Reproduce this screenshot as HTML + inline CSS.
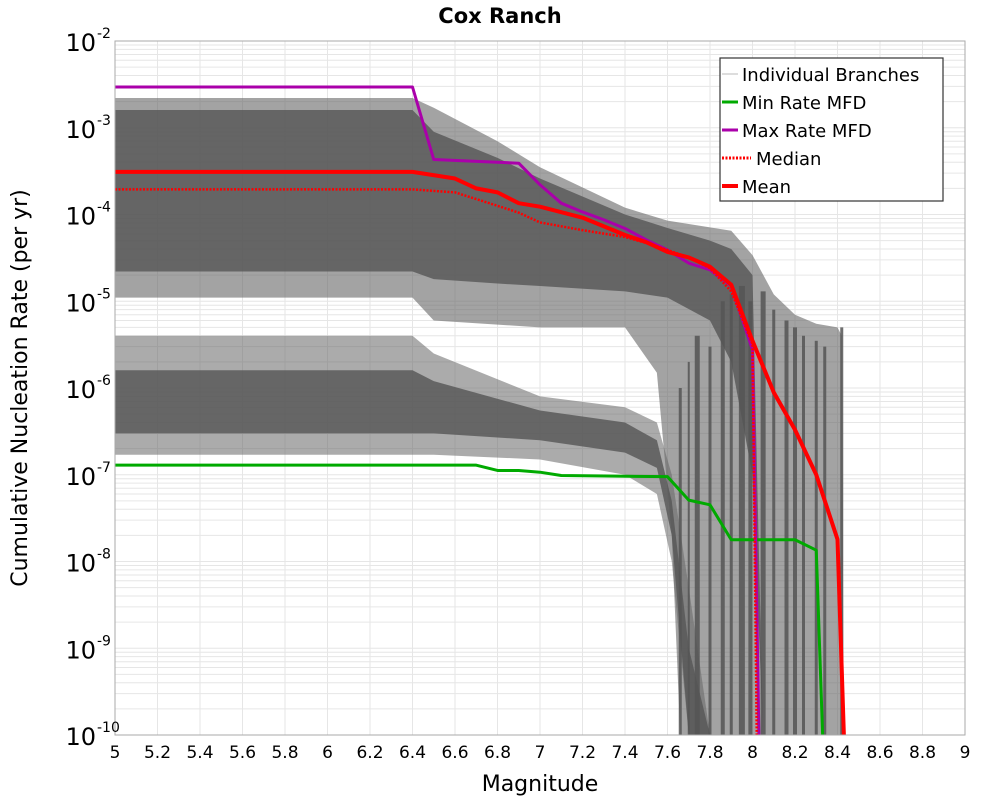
<!DOCTYPE html>
<html><head><meta charset="utf-8"><style>
body{margin:0;background:#fff;}
svg{display:block;font-family:"DejaVu Sans","Liberation Sans",sans-serif;}
</style></head><body>
<svg id="chart" width="1000" height="800" viewBox="0 0 1000 800" xmlns="http://www.w3.org/2000/svg">
<text x="500" y="23" text-anchor="middle" font-size="21" font-weight="bold">Cox Ranch</text>
<g id="grid"></g>
<g id="cloud"></g>
<g id="series"></g>
<rect x="115" y="41" width="850" height="694" fill="none" stroke="#aaa" stroke-width="1"/>
<g id="axes"></g>
<text x="540" y="791" text-anchor="middle" font-size="22">Magnitude</text>
<text transform="translate(27,388) rotate(-90)" text-anchor="middle" font-size="22">Cumulative Nucleation Rate (per yr)</text>
<g>
<rect x="720" y="58" width="223" height="143" fill="#fff" stroke="#333" stroke-width="1.2"/>
<line x1="722" y1="74" x2="738" y2="74" stroke="#bbb" stroke-width="1"/>
<text x="742" y="81" font-size="18">Individual Branches</text>
<line x1="722" y1="102" x2="738" y2="102" stroke="#00aa00" stroke-width="3"/>
<text x="742" y="109" font-size="18">Min Rate MFD</text>
<line x1="722" y1="130" x2="738" y2="130" stroke="#aa00aa" stroke-width="3"/>
<text x="742" y="137" font-size="18">Max Rate MFD</text>
<line x1="722" y1="158" x2="751" y2="158" stroke="#ff0000" stroke-width="3" stroke-dasharray="2,1.5"/>
<text x="756" y="165" font-size="18">Median</text>
<line x1="722" y1="186" x2="738" y2="186" stroke="#ff0000" stroke-width="4"/>
<text x="742" y="193" font-size="18">Mean</text>
</g>
</svg>
<script>
const xTicks=[5,5.2,5.4,5.6,5.8,6,6.2,6.4,6.6,6.8,7,7.2,7.4,7.6,7.8,8,8.2,8.4,8.6,8.8,9];
const yTickExps=[-2,-3,-4,-5,-6,-7,-8,-9,-10];
const maxMags=[5,6.4,6.5,6.9,7.0,7.1,7.2,7.3,7.4,7.5,7.6,7.7,7.8,7.9,8.0,8.03];
const maxVals=[2.95e-3,2.95e-3,4.3e-4,3.9e-4,2.2e-4,1.35e-4,1.07e-4,8.7e-5,6.9e-5,5.1e-5,3.9e-5,2.75e-5,2.3e-5,1.5e-5,2.75e-6,1e-10];
const meanMags=[5,6.4,6.6,6.7,6.8,6.9,7.0,7.2,7.4,7.5,7.6,7.7,7.8,7.9,8.0,8.1,8.2,8.3,8.4,8.43];
const meanVals=[3.1e-4,3.1e-4,2.6e-4,2.0e-4,1.8e-4,1.35e-4,1.23e-4,9.2e-5,5.8e-5,4.8e-5,3.7e-5,3.2e-5,2.5e-5,1.55e-5,3.5e-6,8.9e-7,3.3e-7,1.0e-7,1.8e-8,1e-10];
const medMags=[5,6.4,6.6,6.8,6.9,7.0,7.2,7.4,7.5,7.6,7.7,7.8,7.9,8.0,8.02];
const medVals=[1.95e-4,1.95e-4,1.8e-4,1.26e-4,1.05e-4,8.1e-5,6.6e-5,5.5e-5,4.7e-5,3.9e-5,3.2e-5,2.4e-5,1.3e-5,3.2e-6,1e-10];
const minMags=[5,6.7,6.8,6.9,7.0,7.1,7.6,7.7,7.8,7.9,8.2,8.3,8.33];
const minVals=[1.29e-7,1.29e-7,1.12e-7,1.12e-7,1.07e-7,9.8e-8,9.5e-8,5.1e-8,4.5e-8,1.78e-8,1.78e-8,1.35e-8,1e-10];
// gray branch cloud envelopes
const upMags=[5,6.4,6.5,6.8,7.0,7.4,7.6,7.9,8.0,8.1,8.2,8.3,8.4,8.42,8.43];
const upHi=[2.2e-3,2.2e-3,1.7e-3,7e-4,3.5e-4,1.2e-4,8.5e-5,6.5e-5,3.4e-5,1.2e-5,7e-6,5.5e-6,5e-6,4e-6,1e-10];
const upLoMags=[5,6.4,6.5,7.0,7.4,7.55,7.62,7.66];
const upLo=[1.1e-5,1.1e-5,6e-6,5e-6,5e-6,1.5e-6,2e-8,1e-10];
const coreMags=[5,6.4,6.5,6.8,7.0,7.4,7.6,7.8,7.9,8.0,8.05];
const coreHi=[1.6e-3,1.6e-3,9e-4,4.5e-4,2.6e-4,1e-4,7e-5,5e-5,4e-5,2e-5,1e-10];
const coreLo=[2.2e-5,2.2e-5,1.8e-5,1.6e-5,1.5e-5,1.3e-5,1.1e-5,6e-6,2e-6,1e-7,1e-10];
const loMags=[5,6.4,6.5,7.0,7.4,7.55,7.62,7.7,7.8];
const loHi=[4e-6,4e-6,2.5e-6,8e-7,6e-7,4e-7,1e-7,5e-9,1e-10];
const loLo=[1.7e-7,1.7e-7,1.7e-7,1.5e-7,1e-7,6e-8,1e-8,1e-10,1e-10];
const lcoreHi=[1.6e-6,1.6e-6,1.2e-6,5.5e-7,4e-7,2.5e-7,5e-8,1e-9,1e-10];
const lcoreLo=[3e-7,3e-7,3e-7,2.5e-7,1.8e-7,1.2e-7,2e-8,1e-10,1e-10];
const dropMags=[7.66,7.7,7.74,7.8,7.86,7.9,7.95,7.99,8.05,8.1,8.16,8.2,8.24,8.3,8.34,8.42];
const dropTops=[1e-6,2e-6,4e-6,3e-6,1e-5,1.2e-5,1.5e-5,1e-5,1.3e-5,8e-6,6e-6,5e-6,4e-6,3.5e-6,3e-6,5e-6];
const dropW=[3,2,5,3,4,3,6,4,5,3,4,4,3,3,3,3];

const NS="http://www.w3.org/2000/svg";
const X=m=>115+(m-5)*212.5;
const Y=v=>41+(-2-Math.log10(v))*86.75;
function mk(tag,attrs,parent){const e=document.createElementNS(NS,tag);for(const k in attrs)e.setAttribute(k,attrs[k]);parent.appendChild(e);return e;}
const grid=document.getElementById('grid'),cloud=document.getElementById('cloud'),series=document.getElementById('series'),axes=document.getElementById('axes');
for(let e=-10;e<-2;e++)for(let k=1;k<10;k++){const y=Y(k*Math.pow(10,e));
 const l=mk('line',{x1:115,x2:965,y1:y,y2:y,stroke:'#e6e6e6','stroke-width':1},grid);
 
 }
xTicks.forEach(m=>{const l=mk('line',{x1:X(m),x2:X(m),y1:41,y2:735,stroke:'#e6e6e6','stroke-width':1},grid);
 
 });
function band(mags,hi,lo,lomags,fill,op,name){
 let pts=mags.map((m,i)=>X(m)+','+Math.min(735,Y(hi[i])));
 const lm=lomags||mags;
 for(let i=lm.length-1;i>=0;i--)pts.push(X(lm[i])+','+Math.min(735,Y(lo[i])));
 const p=mk('polygon',{points:pts.join(' '),fill:fill,'fill-opacity':op},cloud);
 
 }
band(upMags,upHi,upLo,upLoMags,'#666',0.6,'upper-branch-envelope');
band(coreMags,coreHi,coreLo,null,'#555',0.8,'upper-branch-core');
band(loMags,loHi,loLo,null,'#666',0.55,'lower-branch-envelope');
band(loMags,lcoreHi,lcoreLo,null,'#555',0.8,'lower-branch-core');
dropMags.forEach((m,i)=>{const r=mk('rect',{x:X(m)-dropW[i]/2,y:Y(dropTops[i]),width:dropW[i],height:735-Y(dropTops[i]),fill:'#555','fill-opacity':0.85},cloud);
 
 });
function line(mags,vals,color,w,dash,name){
 const d=mags.map((m,i)=>(i?'L':'M')+X(m)+' '+Math.min(735,Y(vals[i]))).join(' ');
 const p=mk('path',{d:d,fill:'none',stroke:color,'stroke-width':w,'stroke-linejoin':'round'},series);
 if(dash)p.setAttribute('stroke-dasharray',dash);
 
 }
line(minMags,minVals,'#00aa00',3,null,'min-rate-mfd-line');
line(maxMags,maxVals,'#aa00aa',3,null,'max-rate-mfd-line');
line(medMags,medVals,'#ff0000',2.5,'2,1.5','median-line');
line(meanMags,meanVals,'#ff0000',4,null,'mean-line');
xTicks.forEach(m=>{const t=mk('text',{x:X(m),y:758,'text-anchor':'middle','font-size':17},axes);t.textContent=String(m);
 
 });
yTickExps.forEach(e=>{const y=Y(Math.pow(10,e));const t=mk('text',{x:96,y:y+10,'text-anchor':'end','font-size':24},axes);t.textContent='10';
 
 
 const s=mk('text',{x:97,y:y-3,'font-size':14},axes);s.textContent=String(e);
 
 });
</script>
</body></html>
